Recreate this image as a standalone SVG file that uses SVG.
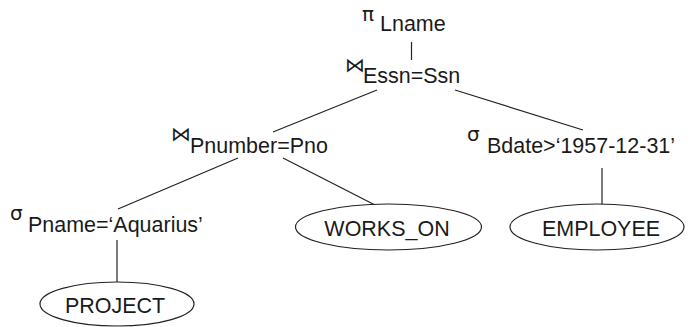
<svg xmlns="http://www.w3.org/2000/svg" width="696" height="327" viewBox="0 0 696 327">
<style>
.t{font-family:"Liberation Sans",Arial,sans-serif;font-size:22.5px;fill:#1a1a1a}
.op{font-family:"DejaVu Sans",sans-serif;font-size:20px;fill:#1a1a1a}
.e{fill:#fff;stroke:#222;stroke-width:1.2}
.c line{stroke:#222;stroke-width:1.2}
</style>
<rect width="696" height="327" fill="#fff"/>
<g class="c" id="connectors">
<line x1="411.5" y1="42" x2="411.5" y2="60"/>
<line x1="377" y1="90" x2="273" y2="132"/>
<line x1="455" y1="90" x2="583" y2="130"/>
<line x1="238" y1="158" x2="118" y2="209"/>
<line x1="283" y1="158" x2="375" y2="205"/>
<line x1="602" y1="168" x2="602" y2="205"/>
<line x1="117" y1="240" x2="117" y2="282"/>
</g>
<g id="pi">
<text class="op" x="362" y="21">π</text>
<text class="t" transform="matrix(0.955 0 0 1 380 31)">Lname</text>
</g>
<g id="join1">
<text class="op" x="345" y="72">⋈</text>
<text class="t" transform="matrix(0.955 0 0 1 363 83)">Essn=Ssn</text>
</g>
<g id="join2">
<text class="op" x="171" y="141">⋈</text>
<text class="t" transform="matrix(0.955 0 0 1 190 153)">Pnumber=Pno</text>
</g>
<g id="sel_bdate">
<text class="op" x="467" y="141">σ</text>
<text class="t" transform="matrix(0.955 0 0 1 487 153)">Bdate&gt;‘1957-12-31’</text>
</g>
<g id="sel_pname">
<text class="op" x="10" y="220">σ</text>
<text class="t" transform="matrix(0.955 0 0 1 28 232)">Pname=‘Aquarius’</text>
</g>
<g id="works_on">
<ellipse class="e" cx="388.5" cy="227" rx="93" ry="23"/>
<text class="t" text-anchor="middle" transform="matrix(0.955 0 0 1 387 236)">WORKS_ON</text>
</g>
<g id="employee">
<ellipse class="e" cx="597" cy="227" rx="87" ry="23"/>
<text class="t" text-anchor="middle" transform="matrix(0.955 0 0 1 601 236)">EMPLOYEE</text>
</g>
<g id="project">
<ellipse class="e" cx="117" cy="304" rx="77" ry="22"/>
<text class="t" text-anchor="middle" transform="matrix(0.955 0 0 1 115 313)">PROJECT</text>
</g>
</svg>
